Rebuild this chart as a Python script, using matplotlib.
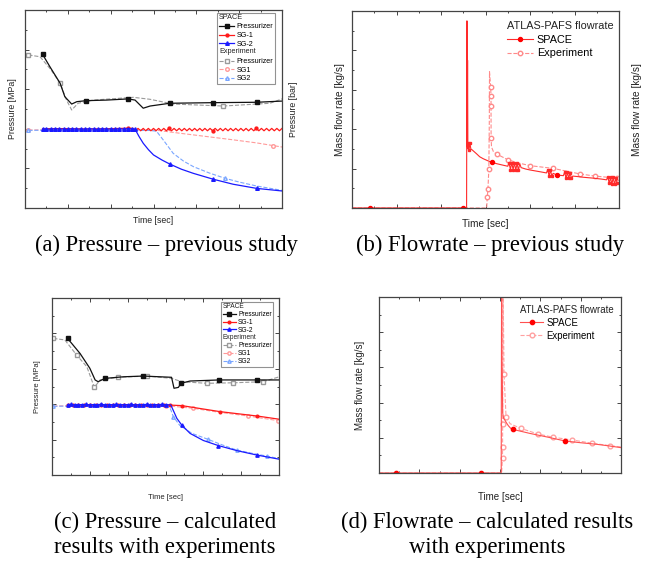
import matplotlib
matplotlib.use("Agg")
import matplotlib.pyplot as plt
from matplotlib.legend_handler import HandlerBase
from matplotlib.text import Text
from matplotlib.ticker import MultipleLocator

plt.rcParams["font.family"] = ["Liberation Sans", "DejaVu Sans"]

# ---------------- (a) pressure, previous study ----------------
a_t_prz_space = [41, 58, 82, 93, 109, 121, 142, 190, 241, 257, 276, 292, 338, 439, 541, 600]
a_p_prz_space = [7.76, 7.14, 6.30, 5.62, 5.25, 5.37, 5.42, 5.45, 5.51, 5.45, 5.04, 5.15, 5.29, 5.32, 5.34, 5.40]

a_t_sg1_space = [41, 90, 140, 190, 241,
                 252, 258, 264, 270, 276, 282, 288, 294, 300, 306, 312, 318, 324, 330, 336,
                 342, 348, 354, 360, 366, 372, 378, 384, 390, 396, 402, 408, 414, 420, 426,
                 432, 438, 444, 450, 456, 462, 468, 474, 480, 486, 492, 498, 504, 510, 516,
                 522, 528, 534, 540, 546, 552, 558, 564, 570, 576, 582, 588, 594, 600]
a_p_sg1_space = [4.00, 4.01, 3.99, 4.00, 4.03,
                 4.02, 3.90, 4.02, 3.90, 4.02, 3.90, 4.02, 3.90, 4.02, 3.90, 4.02, 3.90, 4.02, 3.90, 4.02,
                 3.90, 4.02, 3.90, 4.02, 3.90, 4.02, 3.90, 4.02, 3.90, 4.02, 3.90, 4.02, 3.90, 4.02, 3.90,
                 4.02, 3.90, 4.02, 3.90, 4.02, 3.90, 4.02, 3.90, 4.02, 3.90, 4.02, 3.90, 4.02, 3.90, 4.02,
                 3.90, 4.02, 3.90, 4.02, 3.90, 4.02, 3.90, 4.02, 3.90, 4.02, 3.90, 4.02, 3.90, 4.02]

a_t_sg2_space = [41, 50, 60, 70, 80, 90, 100, 110, 120, 130, 140, 150, 160, 170, 180, 190, 200, 210,
                 220, 230, 241, 250, 257, 266, 276, 288, 300, 320, 338, 365, 393, 415, 440, 486, 541, 600]
a_p_sg2_space = [3.97, 3.99, 3.98, 4.00, 3.98, 3.99, 3.97, 4.00, 3.98, 3.99, 3.98, 4.00, 3.99, 3.97,
                 4.00, 3.98, 3.99, 3.97, 4.00, 3.98, 4.01, 3.99, 3.98, 3.62, 3.27, 2.95, 2.68, 2.42,
                 2.22, 1.96, 1.75, 1.61, 1.45, 1.20, 0.99, 0.86]

a_t_prz_exp = [8, 35, 60, 82, 97, 109, 124, 159, 253, 292, 346, 463, 572, 600]
a_p_prz_exp = [7.73, 7.64, 7.00, 6.30, 5.45, 4.95, 5.29, 5.45, 5.59, 5.49, 5.25, 5.15, 5.29, 5.51]

a_t_sg1_exp = [8, 60, 120, 180, 240, 307, 360, 420, 480, 540, 580, 600]
a_p_sg1_exp = [3.94, 3.95, 3.93, 3.95, 3.94, 3.93, 3.78, 3.62, 3.46, 3.29, 3.15, 3.08]

a_t_sg2_exp = [8, 60, 120, 180, 240, 290, 307, 323, 346, 370, 393, 430, 467, 500, 541, 600]
a_p_sg2_exp = [3.92, 3.93, 3.91, 3.92, 3.93, 3.92, 3.88, 3.43, 2.76, 2.37, 2.09, 1.77, 1.50, 1.31, 1.11, 0.89]

# ---------------- (b) flowrate, previous study ----------------
b_t_space = [0, 40, 120, 200, 250, 257.5, 258.3, 259.0, 259.7, 260.4, 261.5, 263, 265, 267, 270,
             275, 280, 287, 295, 305, 314, 325, 340, 350, 353, 356, 359, 362, 365, 368, 371, 374,
             377, 380, 390, 400, 410, 425, 437, 440, 443, 446, 449, 452, 460, 475, 478, 481, 484,
             487, 490, 493, 496, 505, 520, 540, 560, 572, 575, 578, 581, 584, 587, 590, 593, 596, 600]
b_f_space = [0, 0, 0, 0, 0, 0, 9.5, 3.1, 7.5, 3.0, 3.3, 2.95, 3.3, 3.0, 2.95,
             2.85, 2.75, 2.6, 2.5, 2.4, 2.32, 2.25, 2.17, 2.12, 2.3, 1.95, 2.3, 1.95, 2.28, 1.93, 2.27, 1.92,
             2.25, 2.05, 1.98, 1.93, 1.89, 1.83, 1.78, 1.95, 1.6, 1.95, 1.6, 1.76, 1.68, 1.64, 1.82, 1.5, 1.82,
             1.5, 1.8, 1.5, 1.62, 1.6, 1.56, 1.52, 1.47, 1.43, 1.58, 1.25, 1.55, 1.2, 1.55, 1.2, 1.5, 1.25, 1.28]
# indices of the dense oscillation blobs in the SPACE trace
b_blob_idx = [10, 11, 12, 24, 25, 26, 27, 28, 29, 30, 31, 39, 40, 41, 42, 46, 47, 48, 49, 50, 51,
              58, 59, 60, 61, 62, 63, 64, 65]

b_t_exp = [0, 100, 200, 302.7, 304, 305.5, 307.5, 308.6, 309, 311.5, 312.4, 312.4, 312.6,
           313.5, 318, 325, 351, 375, 400, 452, 480, 512, 546, 570, 595, 600]
b_f_exp = [0, 0, 0, 0, 0.57, 0.96, 1.98, 4.5, 6.92, 6.16, 5.69, 5.18, 3.57,
           3.1, 2.85, 2.74, 2.44, 2.28, 2.15, 2.01, 1.88, 1.73, 1.62, 1.57, 1.51, 1.50]

# ---------------- (c) pressure, calculated ----------------
c_t_prz_space = [41, 74, 100, 114, 122, 140, 190, 241, 316, 322.5, 334, 341, 365, 442, 542, 600]
c_p_prz_space = [7.72, 6.87, 6.03, 5.37, 5.27, 5.46, 5.55, 5.59, 5.52, 4.90, 4.95, 5.18, 5.31, 5.37, 5.37, 5.37]

c_t_sg1_space = [41, 55, 70, 85, 100, 115, 130, 145, 160, 175, 190, 205, 220, 235, 250, 265, 280, 295,
                 312, 343, 444, 543, 601]
c_p_sg1_space = [3.96, 3.95, 3.97, 3.94, 3.96, 3.95, 3.97, 3.95, 3.94, 3.96, 3.95, 3.97, 3.94, 3.96,
                 3.95, 3.95, 3.96, 3.95, 3.95, 3.92, 3.58, 3.33, 3.15]

c_t_sg2_space = [41, 50, 60, 70, 80, 90, 100, 110, 120, 130, 140, 150, 160, 170, 180, 190, 200, 210,
                 220, 230, 240, 250, 260, 270, 280, 290, 300, 314, 330, 343, 365, 400, 440, 490, 541, 601]
c_p_sg2_space = [3.97, 3.99, 3.96, 3.98, 3.97, 3.99, 3.96, 3.98, 3.97, 4.00, 3.96, 3.98, 3.97, 3.99,
                 3.96, 3.98, 3.97, 3.99, 3.96, 3.98, 3.97, 3.99, 3.96, 3.98, 3.97, 3.99, 3.97,
                 3.96, 3.20, 2.82, 2.35, 1.95, 1.66, 1.37, 1.13, 0.89]

c_t_prz_exp = [3.5, 34, 65, 92, 112, 127, 175, 250, 316, 343, 409, 479, 558, 601]
c_p_prz_exp = [7.72, 7.63, 6.78, 6.12, 4.95, 5.37, 5.52, 5.59, 5.46, 5.27, 5.18, 5.21, 5.27, 5.55]

c_t_sg1_exp = [3.5, 60, 120, 180, 240, 300, 320, 373, 440, 519, 598]
c_p_sg1_exp = [3.90, 3.91, 3.90, 3.89, 3.91, 3.90, 3.88, 3.77, 3.55, 3.33, 3.07]

c_t_sg2_exp = [3.5, 60, 120, 180, 240, 300, 312, 320.6, 337, 370, 413, 450, 488, 530, 567.5, 601]
c_p_sg2_exp = [3.88, 3.90, 3.89, 3.90, 3.91, 3.90, 3.80, 3.30, 2.82, 2.35, 2.01, 1.70, 1.41, 1.22, 1.07, 0.92]

# ---------------- (d) flowrate, calculated ----------------
d_t_space = [0, 41, 150, 252, 303, 304, 305, 306.7, 309, 312, 316, 320.6, 326, 331.5, 350, 374,
             420, 461, 500, 540, 570, 600]
d_f_space = [0, 0, 0, 0, 0, 12, 6.5, 3.40, 3.1, 3.01, 2.85, 2.69, 2.55, 2.48, 2.38, 2.25,
             2.03, 1.82, 1.72, 1.63, 1.54, 1.44]

d_t_exp = [0, 100, 200, 304, 306.2, 306.4, 306.6, 307, 307.5, 310, 315, 325, 351, 393.5, 432,
           478, 529, 573, 600]
d_f_exp = [0, 0, 0, 0, 0.83, 1.50, 2.78, 6.0, 11, 5.62, 3.2, 2.8, 2.54, 2.22, 2.03,
           1.88, 1.69, 1.55, 1.48]

captions = [
    ("(a) Pressure \u2013 previous study", 166, 245),
    ("(b) Flowrate \u2013 previous study", 490, 245),
    ("(c) Pressure \u2013 calculated\nresults with experiments", 165, 535),
    ("(d) Flowrate \u2013 calculated results\nwith experiments", 487, 535),
]

W, H = 652, 562
fig = plt.figure(figsize=(W / 100, H / 100), dpi=100)


class Header:
    def __init__(self, text):
        self.text = text


class HeaderHandler(HandlerBase):
    def create_artists(self, legend, orig_handle, xdescent, ydescent, width, height, fontsize, trans):
        return [Text(-xdescent, -ydescent + height / 2, orig_handle.text, fontsize=fontsize,
                     va="center", ha="left", color="#222222", transform=trans)]


def px_axes(left, top, right, bottom):
    return fig.add_axes([left / W, 1 - bottom / H, (right - left) / W, (bottom - top) / H])


def style_axes(ax):
    ax.set_xlim(0, 600)
    ax.set_ylim(0, 10)
    ax.xaxis.set_major_locator(MultipleLocator(100))
    ax.xaxis.set_minor_locator(MultipleLocator(50))
    ax.yaxis.set_major_locator(MultipleLocator(2))
    ax.yaxis.set_minor_locator(MultipleLocator(1))
    ax.tick_params(which="both", direction="in", top=True, right=True, labelbottom=False,
                   labelleft=False, color="#444444", width=0.7)
    ax.tick_params(which="major", length=3)
    ax.tick_params(which="minor", length=1.5)
    for s in ax.spines.values():
        s.set_color("#444444")
        s.set_linewidth(0.9)


def right_label(ax, text, size, pad):
    ax2 = ax.twinx()
    ax2.set_yticks([])
    for s in ax2.spines.values():
        s.set_visible(False)
    ax2.set_ylabel(text, fontsize=size, labelpad=pad, color="#222222")


def pressure_panel(ax, d, ms, lab_size, leg_size, anchor, xpad, ypad, spacing, hlen):
    style_axes(ax)
    h = []
    h.append(ax.plot(d["prz_exp"][0], d["prz_exp"][1], ls="--", color="#9a9a9a", lw=0.8, marker="s",
                     mfc="white", mec="#9a9a9a", ms=ms, markevery=d["prz_exp_m"])[0])
    h.append(ax.plot(d["sg1_exp"][0], d["sg1_exp"][1], ls="--", color="#ff9a9a", lw=0.8, marker="o",
                     mfc="white", mec="#ff9a9a", ms=ms, markevery=d["sg1_exp_m"])[0])
    h.append(ax.plot(d["sg2_exp"][0], d["sg2_exp"][1], ls="--", color="#7aa6ff", lw=0.8, marker="^",
                     mfc="white", mec="#7aa6ff", ms=ms, markevery=d["sg2_exp_m"])[0])
    sp_sg1 = ax.plot(d["sg1"][0], d["sg1"][1], color="#ff1a1a", lw=0.9, marker="o", ms=ms * 0.8,
                     markevery=d["sg1_m"])[0]
    sp_sg2 = ax.plot(d["sg2"][0], d["sg2"][1], color="#1a1aff", lw=0.9, marker="^", ms=ms,
                     markevery=d["sg2_m"])[0]
    sp_prz = ax.plot(d["prz"][0], d["prz"][1], color="#111111", lw=0.9, marker="s", ms=ms,
                     markevery=d["prz_m"])[0]
    handles = [Header("SPACE"), sp_prz, sp_sg1, sp_sg2, Header("Experiment")] + h
    labels = ["", "Pressurizer", "SG-1", "SG-2", "", "Pressurizer", "SG1", "SG2"]
    leg = ax.legend(handles, labels, loc="upper right", bbox_to_anchor=anchor, fontsize=leg_size,
                    handler_map={Header: HeaderHandler()}, frameon=True, fancybox=False,
                    edgecolor="#777777", borderaxespad=0, borderpad=0.25, labelspacing=spacing,
                    handlelength=hlen, handletextpad=0.3, numpoints=1)
    leg.get_frame().set_linewidth(0.8)
    ax.set_xlabel("Time [sec]", fontsize=lab_size, labelpad=xpad, color="#222222")
    ax.set_ylabel("Pressure [MPa]", fontsize=lab_size, labelpad=ypad, color="#222222")


def flow_panel(ax, t_sp, f_sp, t_ex, f_ex, sp_m, ex_m, sp_col, ex_col, ms, lab_size, leg_size,
               anchor, xpad, ypad, blobs=None):
    style_axes(ax)
    ex = ax.plot(t_ex, f_ex, ls="--", color=ex_col, lw=0.8, marker="o", mfc="white", mec=ex_col,
                 ms=ms, markevery=ex_m)[0]
    sp = ax.plot(t_sp, f_sp, color=sp_col, lw=0.8, marker="o", mfc="#ff0000", mec="#ff0000",
                 ms=ms * 0.9, markevery=sp_m)[0]
    if blobs:
        ax.plot(t_sp, f_sp, ls="none", marker="s", color=sp_col, ms=1.7, markevery=blobs)
    ax.legend([Header("ATLAS-PAFS flowrate"), sp, ex], ["", "SPACE", "Experiment"], loc="upper left",
              bbox_to_anchor=anchor, fontsize=leg_size, handler_map={Header: HeaderHandler()},
              frameon=False, borderaxespad=0, borderpad=0, labelspacing=0.3, handlelength=2.4,
              handletextpad=0.35, numpoints=1)
    ax.set_xlabel("Time [sec]", fontsize=lab_size, labelpad=xpad, color="#222222")
    ax.set_ylabel("Mass flow rate [kg/s]", fontsize=lab_size, labelpad=ypad, color="#222222")


# (a)
ax_a = px_axes(25, 10, 282, 208)
pressure_panel(ax_a, {
    "prz": (a_t_prz_space, a_p_prz_space), "prz_m": [0, 6, 8, 12, 13, 14],
    "sg1": (a_t_sg1_space, a_p_sg1_space), "sg1_m": [4, 19, 36, 53],
    "sg2": (a_t_sg2_space, a_p_sg2_space), "sg2_m": list(range(23)) + [28, 32, 34],
    "prz_exp": (a_t_prz_exp, a_p_prz_exp), "prz_exp_m": [0, 3, 11],
    "sg1_exp": (a_t_sg1_exp, a_p_sg1_exp), "sg1_exp_m": [0, 10],
    "sg2_exp": (a_t_sg2_exp, a_p_sg2_exp), "sg2_exp_m": [0, 12],
}, ms=2.6, lab_size=6.3, leg_size=5.2, anchor=(0.973, 0.985), xpad=6, ypad=6,
    spacing=0.22, hlen=2.1)
right_label(ax_a, "Pressure [bar]", 6.3, 5)

# (b)
ax_b = px_axes(352, 11, 619, 208)
flow_panel(ax_b, b_t_space, b_f_space, b_t_exp, b_f_exp, [1, 4, 20, 44],
           [4, 5, 6, 9, 10, 11, 12, 15, 16, 18, 19, 21, 22, 24], "#ff2a2a", "#ff8a8a",
           ms=3.2, lab_size=7.3, leg_size=7.8, anchor=(0.58, 0.945), xpad=8, ypad=5,
           blobs=b_blob_idx)
right_label(ax_b, "Mass flow rate [kg/s]", 7.3, 9)

# (c)
ax_c = px_axes(52, 298, 279, 475)
pressure_panel(ax_c, {
    "prz": (c_t_prz_space, c_p_prz_space), "prz_m": [0, 5, 7, 11, 13, 14],
    "sg1": (c_t_sg1_space, c_p_sg1_space), "sg1_m": list(range(19)) + [19, 20, 21],
    "sg2": (c_t_sg2_space, c_p_sg2_space), "sg2_m": list(range(27)) + [29, 32, 34],
    "prz_exp": (c_t_prz_exp, c_p_prz_exp), "prz_exp_m": [0, 2, 4, 6, 7, 10, 11, 12],
    "sg1_exp": (c_t_sg1_exp, c_p_sg1_exp), "sg1_exp_m": [5, 7, 9, 10],
    "sg2_exp": (c_t_sg2_exp, c_p_sg2_exp), "sg2_exp_m": [0, 7, 10, 12, 14],
}, ms=2.4, lab_size=5.5, leg_size=4.8, anchor=(0.975, 0.979), xpad=14, ypad=8,
    spacing=0.12, hlen=2.0)

# (d)
ax_d = px_axes(379, 297, 621, 473)
flow_panel(ax_d, d_t_space, d_f_space, d_t_exp, d_f_exp, [1, 3, 13, 17],
           [4, 5, 6, 9, 10, 12, 13, 14, 15, 16, 17], "#ff5050", "#ffa0a0",
           ms=3.4, lab_size=7.0, leg_size=6.9, anchor=(0.583, 0.955), xpad=14, ypad=10)

for text, x, y in captions:
    fig.text(x / W, 1 - y / H, text, ha="center", va="center", fontsize=16.3,
             family=["Liberation Serif", "DejaVu Serif"], linespacing=1.2)

fig.savefig("out.png", dpi=100)
